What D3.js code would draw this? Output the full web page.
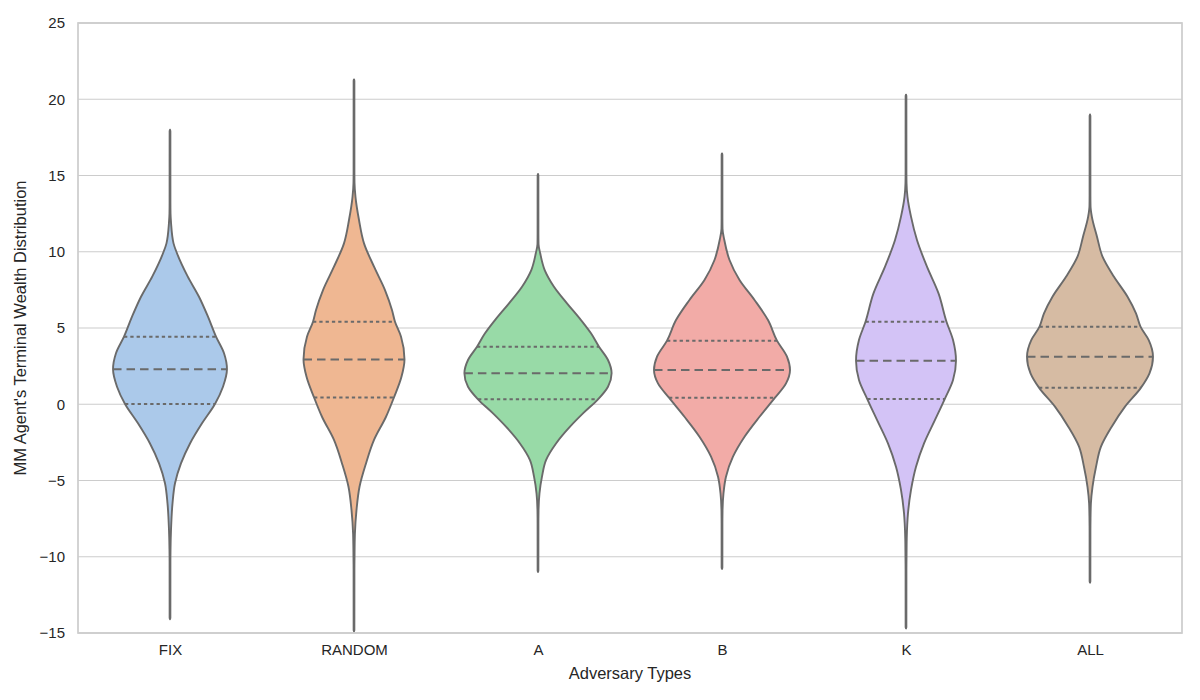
<!DOCTYPE html>
<html>
<head>
<meta charset="utf-8">
<script src="https://cdn.jsdelivr.net/npm/d3@7"></script>
<style>
  html, body { margin: 0; padding: 0; background: #fff; }
  svg { display: block; font-family: "Liberation Sans", Arial, sans-serif; }
</style>
</head>
<body>
<svg id="chart" width="1200" height="700"></svg>
<script>
// ---------------- data ----------------
const categories = ["FIX", "RANDOM", "A", "B", "K", "ALL"];
const yTicks = [-15, -10, -5, 0, 5, 10, 15, 20, 25];
const colors = ["#abc9ea", "#efb792", "#98daa7", "#f2aba7", "#d3c3f6", "#d6bba3"];

const medians = [2.29, 2.94, 2.03, 2.25, 2.86, 3.12];
const q1s     = [0.02, 0.45, 0.32, 0.43, 0.34, 1.09];
const q3s     = [4.43, 5.41, 3.77, 4.17, 5.41, 5.09];

// kernel density profiles: [value, relative density]
const densFIX = [[18.0,0],[17.9,0.005],[13.2,0.0055],[12.5,0.007],[11.9,0.014],[10.55,0.048],[9.9,0.095],[8.4,0.238],[7.05,0.394],[5.74,0.516],[4.43,0.625],[3.34,0.734],[2.29,0.774],[1.15,0.720],[0.02,0.611],[-1.25,0.435],[-2.57,0.272],[-3.88,0.149],[-5.18,0.068],[-6.5,0.034],[-8.2,0.014],[-9.5,0.007],[-10.3,0.0055],[-14.0,0.005],[-14.1,0]];
const densRANDOM = [[21.3,0],[21.2,0.005],[15.2,0.0055],[14.5,0.007],[13.6,0.02],[12.08,0.068],[10.55,0.136],[9.02,0.272],[7.49,0.421],[6.18,0.516],[5.41,0.557],[4.43,0.639],[2.94,0.686],[1.8,0.645],[0.45,0.543],[-0.82,0.435],[-2.34,0.272],[-3.88,0.163],[-5.41,0.075],[-6.93,0.034],[-8.5,0.012],[-10.0,0.007],[-10.8,0.0055],[-14.8,0.005],[-14.9,0]];
const densA = [[15.1,0],[15.0,0.005],[11.2,0.0055],[10.5,0.007],[9.9,0.03],[8.8,0.091],[7.71,0.217],[6.62,0.394],[5.52,0.584],[4.65,0.720],[3.77,0.829],[2.9,0.951],[2.03,1.0],[1.15,0.951],[0.32,0.815],[-0.6,0.611],[-1.47,0.435],[-2.57,0.245],[-3.66,0.109],[-4.75,0.054],[-5.84,0.02],[-7.0,0.007],[-7.8,0.0055],[-10.9,0.005],[-11.0,0]];
const densB = [[16.45,0],[16.35,0.005],[12.2,0.0055],[11.5,0.007],[10.8,0.03],[9.46,0.102],[8.15,0.238],[6.84,0.442],[5.52,0.625],[4.17,0.747],[3.12,0.883],[2.25,0.924],[1.37,0.870],[0.43,0.720],[-0.82,0.510],[-2.13,0.306],[-3.44,0.149],[-4.75,0.054],[-5.84,0.02],[-7.0,0.007],[-7.8,0.0055],[-10.7,0.005],[-10.8,0]];
const densK = [[20.3,0],[20.2,0.005],[15.2,0.0055],[14.5,0.007],[13.6,0.02],[12.3,0.068],[10.77,0.149],[9.02,0.285],[7.27,0.442],[5.41,0.550],[4.21,0.639],[2.86,0.679],[1.59,0.639],[0.34,0.526],[-1.03,0.394],[-2.57,0.245],[-4.1,0.136],[-5.62,0.068],[-7.15,0.027],[-8.8,0.01],[-10.0,0.007],[-10.8,0.0055],[-14.6,0.005],[-14.7,0]];
const densALL = [[19.0,0],[18.9,0.005],[13.7,0.0055],[13.0,0.007],[12.3,0.025],[10.99,0.095],[9.68,0.170],[8.36,0.326],[7.05,0.510],[5.96,0.625],[5.09,0.686],[4.21,0.798],[3.12,0.856],[2.03,0.808],[1.09,0.693],[-0.16,0.476],[-1.47,0.295],[-2.78,0.149],[-4.1,0.082],[-5.41,0.034],[-6.5,0.012],[-7.5,0.007],[-8.3,0.0055],[-11.6,0.005],[-11.7,0]];
const densities = [densFIX, densRANDOM, densA, densB, densK, densALL];

// ---------------- layout ----------------
const W = 1200, H = 700;
const m = { left: 78, right: 18, top: 23, bottom: 67 };
const svg = d3.select("#chart");

const x = d3.scaleLinear().domain([-0.5, categories.length - 0.5]).range([m.left, W - m.right]);
const y = d3.scaleLinear().domain([-15, 25]).range([H - m.bottom, m.top]);
const step = x(1) - x(0);
const maxD = d3.max(densities, d => d3.max(d, p => p[1]));
const w = d3.scaleLinear().domain([0, maxD]).range([0, 0.4 * step]);

const gridColor = "#cccccc";
const lineGray = "#6a6a6a";

// grid
svg.append("g")
  .selectAll("line").data(yTicks).join("line")
  .attr("x1", m.left).attr("x2", W - m.right)
  .attr("y1", d => y(d)).attr("y2", d => y(d))
  .attr("stroke", gridColor).attr("stroke-width", 1.1);

// y axis (labels only)
const yAxis = d3.axisLeft(y).tickValues(yTicks).tickSize(0).tickPadding(13);
const gy = svg.append("g").attr("transform", `translate(${m.left},0)`).call(yAxis);
gy.select(".domain").remove();
gy.selectAll("text").attr("font-size", 15).attr("fill", "#262626")
  .attr("font-family", "'Liberation Sans', Arial, sans-serif");

// x axis (labels only)
const xAxis = d3.axisBottom(x).tickValues(d3.range(categories.length)).tickFormat(i => categories[i]).tickSize(0).tickPadding(11);
const gx = svg.append("g").attr("transform", `translate(0,${H - m.bottom})`).call(xAxis);
gx.select(".domain").remove();
gx.selectAll("text").attr("font-size", 15).attr("fill", "#262626")
  .attr("font-family", "'Liberation Sans', Arial, sans-serif");

// violins
const area = d3.area()
  .curve(d3.curveMonotoneY)
  .y(p => y(p[0]));

function densAt(prof, v) {
  for (let i = 0; i < prof.length - 1; i++) {
    const a = prof[i], b = prof[i + 1];
    if ((v <= a[0] && v >= b[0])) {
      const t = (a[0] - v) / (a[0] - b[0]);
      return a[1] + t * (b[1] - a[1]);
    }
  }
  return 0;
}

const gv = svg.append("g");
categories.forEach((c, i) => {
  const cx = x(i);
  const prof = densities[i];
  gv.append("path")
    .datum(prof)
    .attr("d", area.x0(p => cx - w(p[1])).x1(p => cx + w(p[1])))
    .attr("fill", colors[i])
    .attr("stroke", lineGray)
    .attr("stroke-width", 1.9)
    .attr("stroke-linejoin", "round");

  const lines = [
    { v: q1s[i], dash: "3.3,3" },
    { v: medians[i], dash: "8.5,5" },
    { v: q3s[i], dash: "3.3,3" }
  ];
  lines.forEach(l => {
    const hw = w(densAt(prof, l.v));
    gv.append("line")
      .attr("x1", cx - hw).attr("x2", cx + hw)
      .attr("y1", y(l.v)).attr("y2", y(l.v))
      .attr("stroke", lineGray).attr("stroke-width", 2)
      .attr("stroke-dasharray", l.dash);
  });
});

// frame
svg.append("rect")
  .attr("x", m.left).attr("y", m.top)
  .attr("width", W - m.right - m.left).attr("height", H - m.bottom - m.top)
  .attr("fill", "none").attr("stroke", gridColor).attr("stroke-width", 1.7);

// axis labels
svg.append("text")
  .attr("x", (m.left + W - m.right) / 2).attr("y", H - 21)
  .attr("text-anchor", "middle").attr("font-size", 16.5).attr("fill", "#262626")
  .text("Adversary Types");

svg.append("text")
  .attr("transform", `translate(26,${(m.top + H - m.bottom) / 2}) rotate(-90)`)
  .attr("text-anchor", "middle").attr("font-size", 16.5).attr("fill", "#262626")
  .text("MM Agent's Terminal Wealth Distribution");
</script>
</body>
</html>
